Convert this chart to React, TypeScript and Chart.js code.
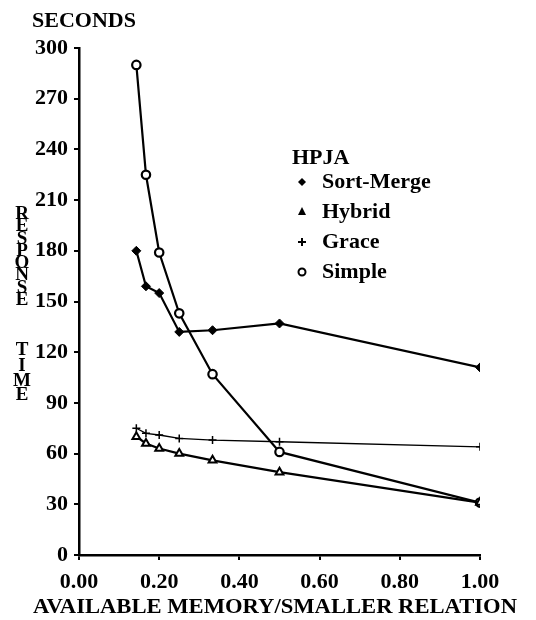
import React, { useEffect, useRef } from "react";
import { Chart, registerables } from "chart.js";

Chart.register(...registerables);

const memoryRatio = [0.143, 0.167, 0.2, 0.25, 0.333, 0.5, 1.0];
const sortMerge = [180, 159, 155, 132, 133, 137, 111];
const hybrid = [70, 66, 63, 60, 56, 49, 31];
const grace = [75, 72, 71, 69, 68, 67, 64];
const simple = [290, 225, 179, 143, 107, 61, 31];

const seriesNames = ["Sort-Merge", "Hybrid", "Grace", "Simple"];
const legendTitle = "HPJA";
const yUnitLabel = "SECONDS";
const yTitleWord1 = "RESPONSE";
const yTitleWord2 = "TIME";
const xTitle = "AVAILABLE MEMORY/SMALLER RELATION";

const FONT = "'Liberation Serif', 'Times New Roman', serif";

function pts(vals: number[]) {
  return vals.map((v, i) => ({ x: memoryRatio[i], y: v }));
}

const decorPlugin = {
  id: "decor",
  afterDraw(chart: any) {
    const ctx = chart.ctx;
    ctx.save();
    ctx.fillStyle = "#000";
    ctx.strokeStyle = "#000";
    ctx.font = `bold 22px ${FONT}`;
    ctx.textBaseline = "middle";
    ctx.textAlign = "left";
    ctx.fillText(yUnitLabel, 32, 21);

    // x axis title, stretched horizontally to the original's width
    ctx.save();
    ctx.font = `bold 22px ${FONT}`;
    ctx.textAlign = "center";
    const w = ctx.measureText(xTitle).width;
    ctx.translate(275, 607);
    ctx.scale(484 / w, 1);
    ctx.fillText(xTitle, 0, 0);
    ctx.restore();

    // stacked vertical title
    ctx.font = `bold 19px ${FONT}`;
    ctx.textAlign = "center";
    yTitleWord1.split("").forEach((ch, i) => ctx.fillText(ch, 22, 214 + i * 12.3));
    const t2 = [350, 366, 381, 395];
    yTitleWord2.split("").forEach((ch, i) => ctx.fillText(ch, 22, t2[i]));

    // legend
    ctx.textAlign = "left";
    ctx.font = `bold 22px ${FONT}`;
    ctx.fillText(legendTitle, 292, 158);
    const ys = [182, 212, 242, 272];
    seriesNames.forEach((name, i) => {
      ctx.fillText(name, 322, ys[i]);
      const cx = 302;
      const cy = ys[i];
      ctx.lineWidth = 2;
      ctx.beginPath();
      if (i === 0) {
        ctx.moveTo(cx, cy - 4);
        ctx.lineTo(cx + 4, cy);
        ctx.lineTo(cx, cy + 4);
        ctx.lineTo(cx - 4, cy);
        ctx.closePath();
        ctx.fill();
      } else if (i === 1) {
        ctx.moveTo(cx, cy - 5);
        ctx.lineTo(cx + 4, cy + 3);
        ctx.lineTo(cx - 4, cy + 3);
        ctx.closePath();
        ctx.fill();
      } else if (i === 2) {
        ctx.moveTo(cx - 4, cy);
        ctx.lineTo(cx + 4, cy);
        ctx.moveTo(cx, cy - 4);
        ctx.lineTo(cx, cy + 4);
        ctx.stroke();
      } else {
        ctx.arc(cx, cy, 3.5, 0, Math.PI * 2);
        ctx.stroke();
      }
    });
    ctx.restore();
  },
};

export default function App() {
  const ref = useRef<HTMLCanvasElement>(null);
  useEffect(() => {
    document.body.style.margin = "0";
    const chart = new Chart(ref.current!, {
      type: "line",
      data: {
        datasets: [
          {
            label: seriesNames[0],
            data: pts(sortMerge),
            borderColor: "#000",
            backgroundColor: "#000",
            borderWidth: 2.2,
            pointStyle: "rectRot",
            pointRadius: 4.5,
            pointBorderWidth: 1,
          },
          {
            label: seriesNames[1],
            data: pts(hybrid),
            borderColor: "#000",
            backgroundColor: "#fff",
            borderWidth: 2.2,
            pointStyle: "triangle",
            pointRadius: 4.5,
            pointBorderWidth: 2,
          },
          {
            label: seriesNames[2],
            data: pts(grace),
            borderColor: "#000",
            backgroundColor: "#000",
            borderWidth: 1.3,
            pointStyle: "cross",
            pointRadius: 4,
            pointBorderWidth: 1.5,
          },
          {
            label: seriesNames[3],
            data: pts(simple),
            borderColor: "#000",
            backgroundColor: "#fff",
            borderWidth: 2.2,
            pointStyle: "circle",
            pointRadius: 4.2,
            pointBorderWidth: 2.2,
          },
        ],
      },
      options: {
        animation: false,
        responsive: false,
        maintainAspectRatio: false,
        layout: { padding: { top: 48, right: 56, left: 0, bottom: 0 } },
        plugins: { legend: { display: false }, tooltip: { enabled: false } },
        scales: {
          x: {
            type: "linear",
            min: 0,
            max: 1,
            ticks: {
              stepSize: 0.2,
              callback: (v: any) => Number(v).toFixed(2),
              color: "#000",
              font: { family: FONT, size: 22, weight: "bold" },
              padding: 9,
              maxRotation: 0,
            },
            grid: {
              drawOnChartArea: false,
              drawTicks: true,
              tickLength: 5,
              color: "#000",
              lineWidth: 2,
            },
            border: { display: true, color: "#000", width: 2.5 },
            title: { display: false },
            afterFit: (s: any) => {
              s.height = 65;
            },
          },
          y: {
            type: "linear",
            min: 0,
            max: 300,
            ticks: {
              stepSize: 30,
              color: "#000",
              font: { family: FONT, size: 22, weight: "bold" },
              padding: 6,
            },
            grid: {
              drawOnChartArea: false,
              drawTicks: true,
              tickLength: 5,
              color: "#000",
              lineWidth: 2,
            },
            border: { display: true, color: "#000", width: 2.5 },
            afterFit: (s: any) => {
              s.width = 79;
            },
          },
        },
      } as any,
      plugins: [decorPlugin],
    });
    return () => chart.destroy();
  }, []);
  return <canvas ref={ref} width={536} height={620} style={{ display: "block" }} />;
}
